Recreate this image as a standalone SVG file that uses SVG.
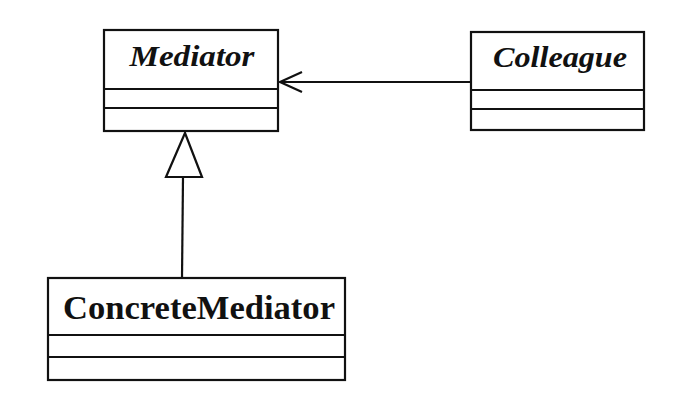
<svg xmlns="http://www.w3.org/2000/svg" width="689" height="404" viewBox="0 0 689 404">
<style>
.box{fill:#fff;stroke:#111;stroke-width:2.2}
.ln{stroke:#111;stroke-width:2.2;fill:none}
.t{font-family:"Liberation Serif",serif;font-weight:bold;fill:#111;text-anchor:middle}
.i{font-style:italic}
</style>
<rect width="689" height="404" fill="#fff"/>
<g id="connectors">
<line class="ln" x1="471" y1="82" x2="280" y2="82"/>
<polyline class="ln" points="302,72 280,82 302,92"/>
<line class="ln" x1="183" y1="177" x2="182" y2="278"/>
<polygon class="ln" points="185,133 166,177 202,177" style="fill:#fff"/>
</g>
<g id="mediator">
<rect class="box" x="104" y="30" width="174" height="101"/>
<line class="ln" x1="104" y1="89" x2="278" y2="89"/>
<line class="ln" x1="104" y1="108" x2="278" y2="108"/>
<text class="t i" x="192" y="66" font-size="30" textLength="125" lengthAdjust="spacingAndGlyphs">Mediator</text>
</g>
<g id="colleague">
<rect class="box" x="471" y="32" width="173" height="98"/>
<line class="ln" x1="471" y1="90" x2="644" y2="90"/>
<line class="ln" x1="471" y1="109" x2="644" y2="109"/>
<text class="t i" x="560" y="67" font-size="30" textLength="134" lengthAdjust="spacingAndGlyphs">Colleague</text>
</g>
<g id="concreteMediator">
<rect class="box" x="48" y="278" width="297" height="102"/>
<line class="ln" x1="48" y1="335" x2="345" y2="335"/>
<line class="ln" x1="48" y1="357" x2="345" y2="357"/>
<text class="t" x="199" y="319" font-size="34" textLength="272" lengthAdjust="spacingAndGlyphs">ConcreteMediator</text>
</g>
</svg>
